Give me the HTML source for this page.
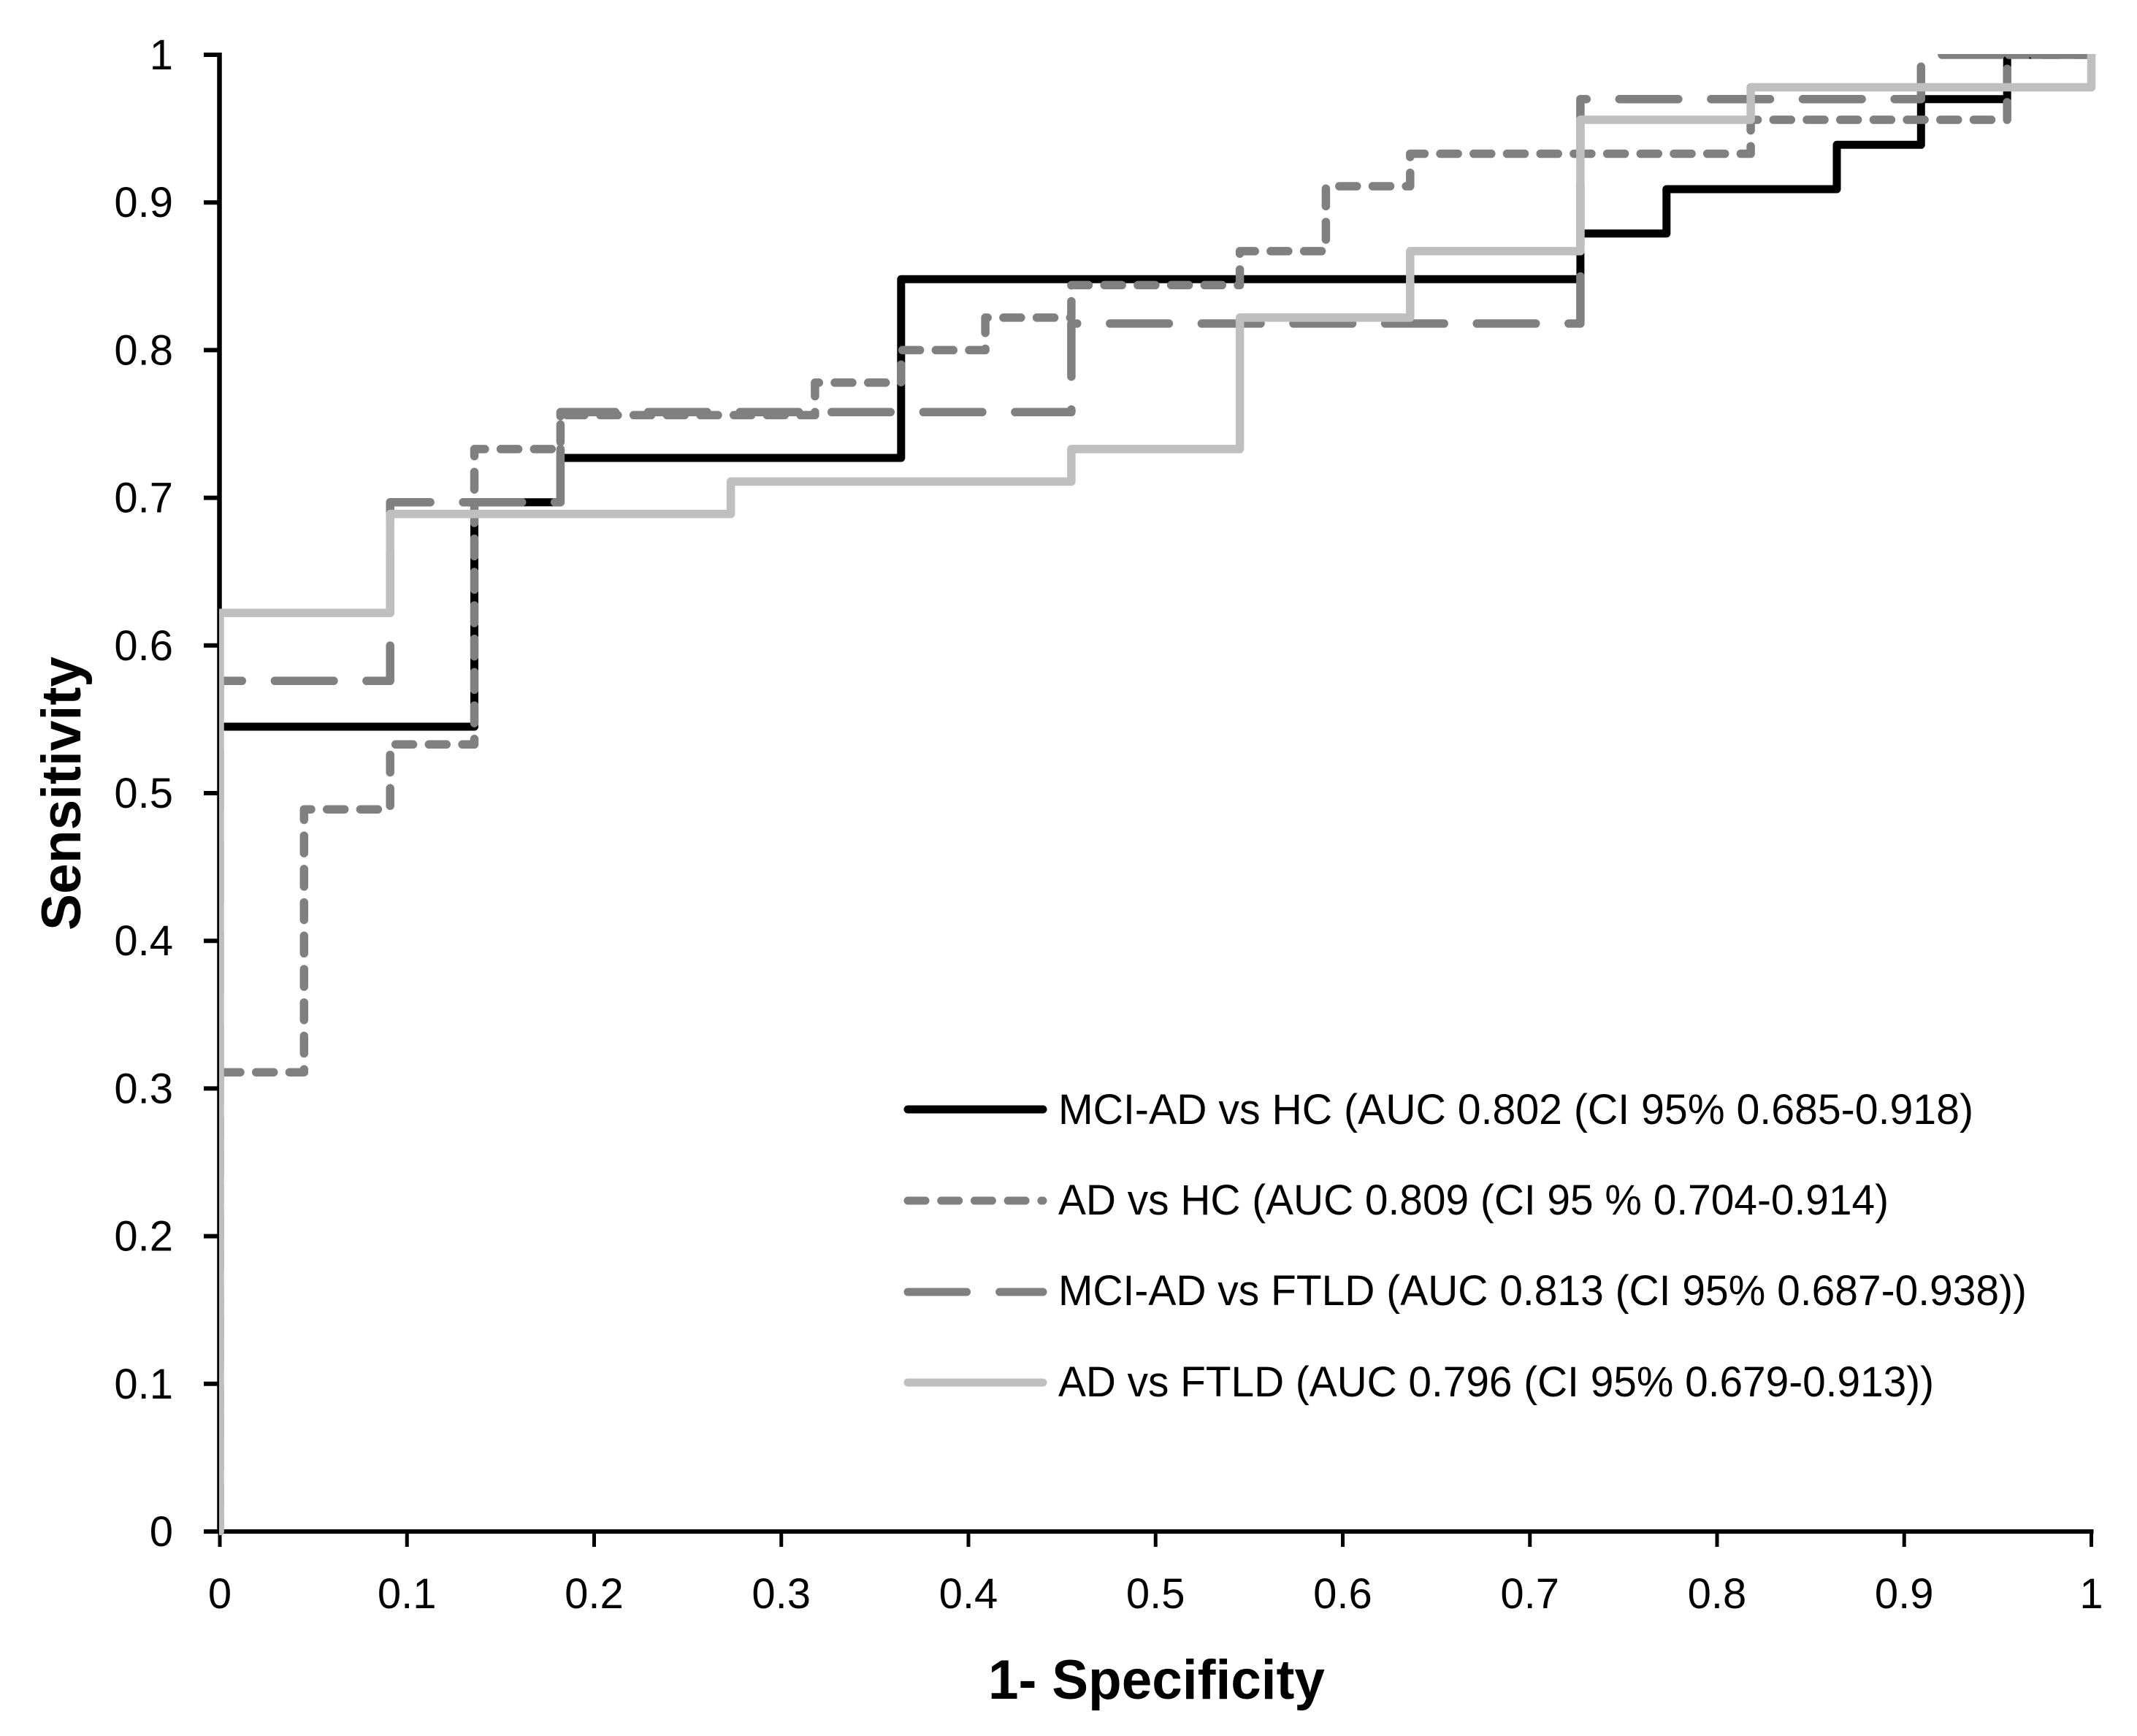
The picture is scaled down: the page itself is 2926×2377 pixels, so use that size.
<!DOCTYPE html>
<html lang="en">
<head>
<meta charset="utf-8">
<title>ROC curves</title>
<style>
html,body{margin:0;padding:0;background:#fff;}
svg{display:block;}
text{font-family:"Liberation Sans",sans-serif;fill:#000;}
</style>
</head>
<body>
<svg id="chart" xmlns="http://www.w3.org/2000/svg" width="2926" height="2377" viewBox="0 0 2926 2377">
  <defs><clipPath id="plot-clip"><rect x="300" y="74" width="2626" height="2028"/></clipPath></defs>
  <rect x="0" y="0" width="2926" height="2377" fill="#ffffff"/>
  <g id="axes"></g>
  <g id="series" clip-path="url(#plot-clip)"></g>
  <g id="legend"></g>
  <text x="1353" y="2326" font-size="76" font-weight="700" textLength="461" lengthAdjust="spacingAndGlyphs">1- Specificity</text>
  <text transform="translate(110,1274) rotate(-90)" font-size="76" font-weight="700" textLength="375" lengthAdjust="spacingAndGlyphs">Sensitivity</text>
</svg>
<script>
var xTickValues = [0, 0.1, 0.2, 0.3, 0.4, 0.5, 0.6, 0.7, 0.8, 0.9, 1];
var xTickLabels = ['0', '0.1', '0.2', '0.3', '0.4', '0.5', '0.6', '0.7', '0.8', '0.9', '1'];
var yTickValues = [0, 0.1, 0.2, 0.3, 0.4, 0.5, 0.6, 0.7, 0.8, 0.9, 1];
var yTickLabels = ['0', '0.1', '0.2', '0.3', '0.4', '0.5', '0.6', '0.7', '0.8', '0.9', '1'];

var mciHcFpr = [0, 0, 0.136, 0.136, 0.182, 0.182, 0.364, 0.364, 0.727, 0.727, 0.773, 0.773, 0.864, 0.864, 0.909, 0.909, 0.955, 0.955, 1];
var mciHcTpr = [0, 0.545, 0.545, 0.697, 0.697, 0.727, 0.727, 0.848, 0.848, 0.879, 0.879, 0.909, 0.909, 0.939, 0.939, 0.970, 0.970, 1, 1];

var adHcFpr = [0, 0, 0.045, 0.045, 0.091, 0.091, 0.136, 0.136, 0.182, 0.182, 0.318, 0.318, 0.364, 0.364, 0.409, 0.409, 0.455, 0.455, 0.545, 0.545, 0.591, 0.591, 0.636, 0.636, 0.818, 0.818, 0.955, 0.955, 1];
var adHcTpr = [0, 0.311, 0.311, 0.489, 0.489, 0.533, 0.533, 0.733, 0.733, 0.756, 0.756, 0.778, 0.778, 0.800, 0.800, 0.822, 0.822, 0.844, 0.844, 0.867, 0.867, 0.911, 0.911, 0.933, 0.933, 0.956, 0.956, 1, 1];

var mciFtldFpr = [0, 0, 0.091, 0.091, 0.182, 0.182, 0.455, 0.455, 0.727, 0.727, 0.909, 0.909, 1];
var mciFtldTpr = [0, 0.576, 0.576, 0.697, 0.697, 0.758, 0.758, 0.818, 0.818, 0.970, 0.970, 1, 1];

var adFtldFpr = [0, 0, 0.091, 0.091, 0.273, 0.273, 0.455, 0.455, 0.545, 0.545, 0.636, 0.636, 0.727, 0.727, 0.818, 0.818, 1, 1];
var adFtldTpr = [0, 0.622, 0.622, 0.689, 0.689, 0.711, 0.711, 0.733, 0.733, 0.822, 0.822, 0.867, 0.867, 0.956, 0.956, 0.978, 0.978, 1];

var legendLabels = [
  'MCI-AD vs HC (AUC 0.802 (CI 95% 0.685-0.918)',
  'AD vs HC (AUC 0.809 (CI 95 % 0.704-0.914)',
  'MCI-AD vs FTLD (AUC 0.813 (CI 95% 0.687-0.938))',
  'AD vs FTLD (AUC 0.796 (CI 95% 0.679-0.913))'
];

var SVGNS = 'http://www.w3.org/2000/svg';
function xScale(v) { return 301 + v * 2562.5; }
function yScale(v) { return 2097 - v * 2022; }
function make(tag, attrs, parent) {
  var el = document.createElementNS(SVGNS, tag);
  for (var k in attrs) { el.setAttribute(k, attrs[k]); }
  parent.appendChild(el);
  return el;
}
function stepPath(fpr, tpr) {
  var d = '';
  for (var i = 0; i < fpr.length; i++) {
    d += (i === 0 ? 'M' : 'L') + xScale(fpr[i]).toFixed(1) + ' ' + yScale(tpr[i]).toFixed(1);
  }
  return d;
}

var axes = document.getElementById('axes');
var seriesGroup = document.getElementById('series');
var legend = document.getElementById('legend');

var yAxisLine = make('line', {x1: xScale(0) - 0.5, x2: xScale(0) - 0.5, y1: yScale(1) - 3, y2: yScale(0) + 3, stroke: '#000', 'stroke-width': 6.5}, axes);


var xAxisLine = make('line', {x1: 279, x2: xScale(1) + 3, y1: yScale(0), y2: yScale(0), stroke: '#000', 'stroke-width': 6}, axes);



yTickValues.forEach(function (v, i) {
  var tick = make('line', {x1: 279, x2: xScale(0), y1: yScale(v), y2: yScale(v), stroke: '#000', 'stroke-width': 6}, axes);
  
  
  var label = make('text', {x: 237, y: yScale(v) + 20, 'text-anchor': 'end', 'font-size': 58}, axes);
  
  
  label.textContent = yTickLabels[i];
});

xTickValues.forEach(function (v, i) {
  var tick = make('line', {x1: xScale(v), x2: xScale(v), y1: yScale(0), y2: 2118, stroke: '#000', 'stroke-width': 5}, axes);
  
  
  var label = make('text', {x: xScale(v), y: 2202, 'text-anchor': 'middle', 'font-size': 58}, axes);
  
  
  label.textContent = xTickLabels[i];
});

var curve1 = make('path', {d: stepPath(mciHcFpr, mciHcTpr), fill: 'none', stroke: '#000000', 'stroke-width': 11, 'stroke-linejoin': 'round', 'stroke-linecap': 'round'}, seriesGroup);


var curve2 = make('path', {d: stepPath(adHcFpr, adHcTpr), fill: 'none', stroke: '#808080', 'stroke-width': 11.5, 'stroke-dasharray': '24 21.7', 'stroke-dashoffset': 7, 'stroke-linejoin': 'round', 'stroke-linecap': 'round'}, seriesGroup);


var curve3 = make('path', {d: stepPath(mciFtldFpr, mciFtldTpr), fill: 'none', stroke: '#808080', 'stroke-width': 11.5, 'stroke-dasharray': '80.6 45', 'stroke-dashoffset': 16, 'stroke-linejoin': 'round', 'stroke-linecap': 'round'}, seriesGroup);


var curve4 = make('path', {d: stepPath(adFtldFpr, adFtldTpr), fill: 'none', stroke: '#bfbfbf', 'stroke-width': 11.5, 'stroke-linejoin': 'round', 'stroke-linecap': 'round'}, seriesGroup);



var handleStyles = [
  {stroke: '#000000', dash: ''},
  {stroke: '#808080', dash: '24 21.7'},
  {stroke: '#808080', dash: '80.6 45'},
  {stroke: '#bfbfbf', dash: ''}
];
var handleY = [1519, 1644, 1769, 1893];
var labelBaseline = [1539, 1663, 1787, 1912];
var labelWidth = [1253, 1137, 1326, 1199];

legendLabels.forEach(function (text, i) {
  var attrs = {x1: 1243, x2: 1428, y1: handleY[i], y2: handleY[i], stroke: handleStyles[i].stroke, 'stroke-width': 11, 'stroke-linecap': 'round'};
  if (handleStyles[i].dash) { attrs['stroke-dasharray'] = handleStyles[i].dash; }
  var handle = make('line', attrs, legend);
  
  
  var label = make('text', {x: 1449, y: labelBaseline[i], 'font-size': 58, textLength: labelWidth[i], lengthAdjust: 'spacingAndGlyphs'}, legend);
  
  
  label.textContent = text;
});
</script>
</body>
</html>
